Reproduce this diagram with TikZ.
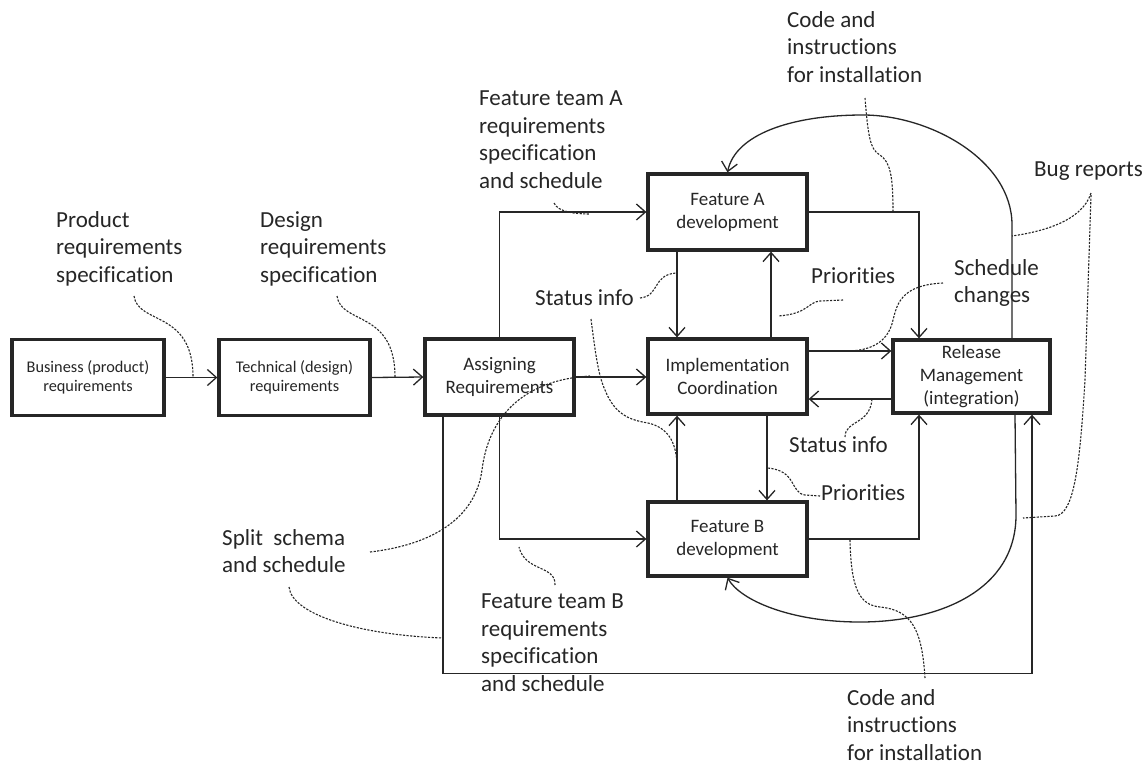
\documentclass[tikz,border=0pt]{standalone}
\usepackage{fontspec}
\setmainfont{Carlito}[Ligatures=NoCommon]
\usetikzlibrary{arrows.meta}
\definecolor{ink}{HTML}{262626}
\begin{document}
\begin{tikzpicture}[x=1pt,y=-1pt,
  box/.style={draw=ink, line width=3.3pt, inner sep=0pt, align=center, text=ink,
    font=\fontsize{19}{23}\selectfont},
  smallbox/.style={box, font=\fontsize{16.3}{19}\selectfont},
  conn/.style={draw=ink, line width=1.3pt, -{Straight Barb[length=9pt,width=16pt]}},
  ann/.style={draw=ink, line width=1.1pt, dash pattern=on 2.2pt off 1.4pt},
  lbl/.style={anchor=north west, inner sep=0pt, align=left, text=ink,
    font=\fontsize{23}{27.5}\selectfont}]
\useasboundingbox (0,0) rectangle (1148,764);
\fill[white] (0,0) rectangle (1148,764);

% boxes
\node[smallbox, minimum width=152pt, minimum height=76pt] (biz) at (88,377.5) {Business (product)\\requirements};
\node[smallbox, minimum width=151pt, minimum height=76pt] (tech) at (294.5,377.5) {Technical (design)\\requirements};
\node[box, minimum width=149pt, minimum height=76pt] (assign) at (499.5,377) {Assigning\\Requirements};
\node[box, minimum width=159pt, minimum height=76pt] (featA) at (727.5,212) {Feature A\\development};
\node[box, minimum width=159pt, minimum height=75pt] (impl) at (727.5,376.5) {Implementation\\Coordination};
\node[box, minimum width=159pt, minimum height=74pt] (featB) at (727.5,539) {Feature B\\development};
\node[box, minimum width=157pt, minimum height=73pt] (rel) at (971.5,376.5) {Release\\Management\\(integration)};

% labels
\node[lbl] (lprod) at (56,211) {Product\\requirements\\specification};
\node[lbl] (ldes) at (260,211) {Design\\requirements\\specification};
\node[lbl] (lfta) at (479,91) {Feature team A\\requirements\\specification\\and schedule};
\node[lbl] (lcodeA) at (787,11) {Code and\\instructions\\for installation};
\node[lbl] (lbug) at (1034,162) {Bug reports};
\node[lbl] (lsched) at (954,259) {Schedule\\changes};
\node[lbl] (lprioA) at (811,267) {Priorities};
\node[lbl] (lstatA) at (535,289) {Status info};
\node[lbl] (lsplit) at (222,529) {Split\ \ schema\\and schedule};
\node[lbl] (lftb) at (481,594) {Feature team B\\requirements\\specification\\and schedule};
\node[lbl] (lstatB) at (789,436) {Status info};
\node[lbl] (lprioB) at (821,484) {Priorities};
\node[lbl] (lcodeB) at (847,689) {Code and\\instructions\\for installation};

% connectors
\draw[conn] (biz.east) -- (tech.west);
\draw[conn] (tech.east) -- (assign.west);
\draw[conn] (assign.north) |- (featA.west);
\draw[conn] (assign.east) -- (assign.east -| impl.west);
\draw[conn] (assign.south) |- (featB.west);
\draw[conn] ([xshift=-56.5pt]assign.south) -- ++(0,257) -| ([xshift=60.5pt]rel.south);
\draw[conn] ([xshift=-50.5pt]featA.south) -- ([xshift=-50.5pt]impl.north);
\draw[conn] ([xshift=43.5pt]impl.north) -- ([xshift=43.5pt]featA.south);
\draw[conn] ([xshift=39.5pt]impl.south) -- ([xshift=39.5pt]featB.north);
\draw[conn] ([xshift=-50.5pt]featB.north) -- ([xshift=-50.5pt]impl.south);
\draw[conn] ([yshift=25.5pt]impl.east) -- ([yshift=25.5pt]impl.east -| rel.west);
\draw[conn] ([yshift=-22.5pt]rel.west) -- ([yshift=-22.5pt]rel.west -| impl.east);
\draw[conn] (featA.east) -| ([xshift=-52.5pt]rel.north);
\draw[conn] (featB.east) -| ([xshift=-52.5pt]rel.south);
\draw[conn] ([xshift=40.5pt]rel.north) -- (1012,225) .. controls (1012,160) and (930,115) .. (863,115)
   .. controls (790,115) and (735,135) .. (featA.north);
\draw[conn] ([xshift=43.5pt]rel.south) -- (1016,515) .. controls (1016,590) and (940,622) .. (860,622)
   .. controls (790,622) and (740,600) .. (featB.south);

% dashed annotation lines
\draw[ann] (134,296) .. controls (138,325) and (193,310) .. (193,377);
\draw[ann] (337,296) .. controls (341,325) and (395,310) .. (395,377);
\draw[ann] (554,203) .. controls (558,212) and (575,214) .. (590,214);
\draw[ann] (865,98) .. controls (868,135) and (870,150) .. (880,155) .. controls (890,162) and (893,175) .. (893,211);
\draw[ann] (1091,193) .. controls (1082,222) and (1040,232) .. (1012,236);
\draw[ann] (1091,195) -- (1085,380) .. controls (1080,460) and (1075,515) .. (1055,516) -- (1023,518);
\draw[ann] (943,283) .. controls (900,285) and (897,305) .. (893,320) .. controls (888,343) and (870,350) .. (850,351);
\draw[ann] (843,300) -- (820,301) .. controls (808,302) and (808,314) .. (778,316);
\draw[ann] (640,298) .. controls (660,296) and (652,275) .. (676,273);
\draw[ann] (591,319) .. controls (595,350) and (598,375) .. (605,390) .. controls (615,415) and (630,420) .. (648,423)
   .. controls (670,428) and (677,445) .. (677,468);
\draw[ann] (370,552) .. controls (430,545) and (475,520) .. (482,470) .. controls (488,420) and (520,380) .. (590,376);
\draw[ann] (289,587) .. controls (292,615) and (360,635) .. (443,638);
\draw[ann] (555,585) .. controls (556,565) and (525,572) .. (519,547);
\draw[ann] (845,437) .. controls (845,420) and (870,425) .. (872,399);
\draw[ann] (820,496) -- (805,495) .. controls (790,493) and (797,470) .. (767,468);
\draw[ann] (925,678) .. controls (922,630) and (912,610) .. (880,607) .. controls (860,605) and (851,590) .. (850,540);
\end{tikzpicture}
\end{document}
